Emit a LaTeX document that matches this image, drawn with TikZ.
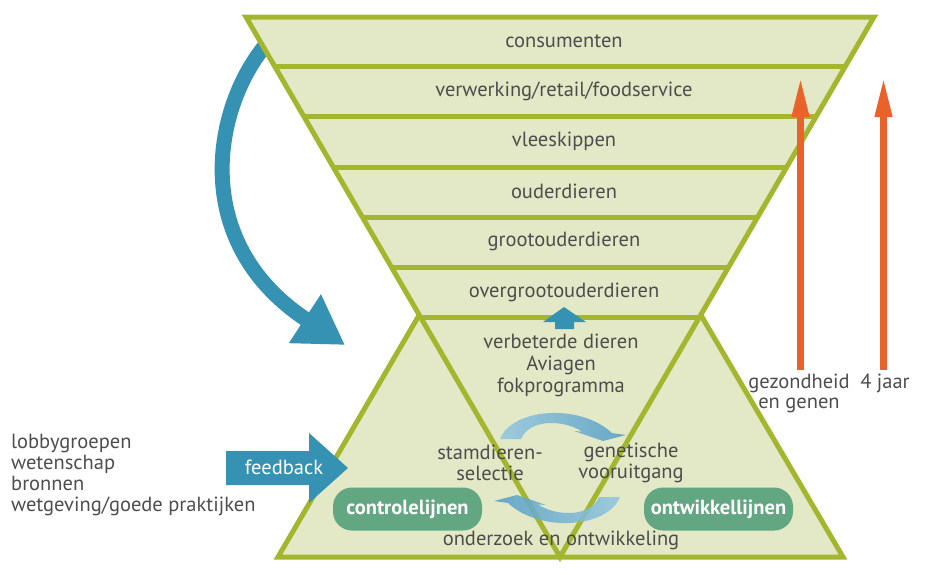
\documentclass[tikz,border=0pt]{standalone}
\usepackage{fontspec}
\setmainfont{PT Sans}
\usetikzlibrary{arrows.meta}

\definecolor{lineGreen}{HTML}{A3B62E}
\definecolor{paleGreen}{HTML}{E3E8C6}
\definecolor{tealBlue}{HTML}{3592B3}
\definecolor{boxGreen}{HTML}{62A682}
\definecolor{carrot}{HTML}{E8622A}
\definecolor{inkGray}{HTML}{4D4D4D}
\definecolor{cycleLight}{HTML}{94C6E0}
\definecolor{cycleDark}{HTML}{579FC6}

\begin{document}
\begin{tikzpicture}[x=1pt,y=-1pt,
  lbl/.style={text=inkGray, inner sep=0pt, font=\fontsize{20.5}{21}\selectfont},
  pill/.style={fill=boxGreen, text=white, rounded corners=19pt, inner sep=0pt,
    minimum width=149pt, minimum height=43pt, font=\fontsize{20.5}{21}\selectfont\bfseries},
  frame/.style={draw=lineGreen, line width=5pt, line join=miter},
  bandline/.style={draw=lineGreen, line width=5pt},
  uparrow/.style={draw=carrot, line width=7pt, -{Triangle[length=40pt,width=16pt]}},
  cyclearrow/.style={opacity=0.88}]
\useasboundingbox (0,0) rectangle (938,574);

% curved feedback arrow from the consumers back to the breeding programme
\draw[tealBlue, line width=15pt, -{Triangle[length=48pt,width=55pt]}]
  (270,40) .. controls (215,100) and (185,240) .. (345,345);

% lower triangle (breeding base)
\filldraw[frame, fill=paleGreen] (278,557) -- (418,317) -- (702,317) -- (843,557) -- cycle;

% inverted production pyramid
\fill[paleGreen] (246,17) -- (874,17) -- (560,557) -- cycle;
\draw[frame] (874,17) -- (246,17) -- (560,557) -- cycle;

% horizontal band dividers
\foreach \yy in {66,116,167,217,267,317} {
  \draw[bandline] ({246+(\yy-17)*0.58148},\yy) -- ({874-(\yy-17)*0.58148},\yy);
}

% small arrow from breeding programme up to great-grandparents
\fill[tealBlue] (555,329) -- (555,322) -- (543,322) -- (564,307) -- (586,322) -- (574,322) -- (574,329) -- cycle;

% generation labels
\node[lbl] (consumenten) at (564,41) {consumenten};
\node[lbl] (verwerking) at (564,91) {verwerking/retail/foodservice};
\node[lbl] (vleeskippen) at (564,141) {vleeskippen};
\node[lbl] (ouderdieren) at (564,191) {ouderdieren};
\node[lbl] (grootouders) at (564,241) {grootouderdieren};
\node[lbl] (overgroot) at (564,292) {overgrootouderdieren};

\node[lbl, align=center, font=\fontsize{20.5}{22}\selectfont] (aviagen) at (561,365)
  {verbeterde dieren\\Aviagen\\fokprogramma};

% breeding cycle arrows
\shade[cyclearrow, left color=cycleLight, right color=cycleDark]
  (500,439) .. controls (512,408) and (580,403) .. (612,433) -- (626,435)
  -- (603,441) -- (574,431) -- (582,431.6)
  .. controls (565,420) and (530,418) .. (521,439) -- cycle;
\shade[cyclearrow, left color=cycleDark, right color=cycleLight]
  (620,497) .. controls (608,528) and (540,533) .. (508,503) -- (494,501)
  -- (517,495) -- (546,505) -- (538,504.4)
  .. controls (555,516) and (590,518) .. (599,497) -- cycle;

\node[lbl, align=center, font=\fontsize{20.5}{20.5}\selectfont] (stamdieren) at (490,463) {stamdieren-\\selectie};
\node[lbl, align=center, font=\fontsize{20.5}{20.5}\selectfont] (genetisch) at (631,463) {genetische\\vooruitgang};

\node[pill] (controle) at (407.5,509) {controlelijnen};
\node[pill] (ontwikkel) at (718.5,509) {ontwikkellijnen};

\node[lbl] (onderzoek) at (561,540) {onderzoek en ontwikkeling};

% external feedback arrow
\fill[tealBlue] (226,451) -- (309,451) -- (309,433) -- (348,468) -- (309,503) -- (309,485) -- (226,485) -- cycle;
\node[lbl, text=white] (feedback) at (284,467) {feedback};

\node[lbl, align=left, anchor=west, font=\fontsize{20.5}{21}\selectfont] (bronnen) at (11,475)
  {lobbygroepen\\wetenschap\\bronnen\\wetgeving/goede praktijken};

% time scale arrows
\coordinate (gezBase) at (800.5,370);
\coordinate (gezTop) at (800.5,77);
\coordinate (jaarBase) at (883.5,370);
\coordinate (jaarTop) at (883.5,77);
\draw[uparrow] (gezBase) -- (gezTop);
\draw[uparrow] (jaarBase) -- (jaarTop);
\node[lbl, align=center, font=\fontsize{20.5}{20}\selectfont] (gezondheid) at (799,393) {gezondheid\\en genen};
\node[lbl] (jaar) at (885,383) {4 jaar};
\end{tikzpicture}
\end{document}
